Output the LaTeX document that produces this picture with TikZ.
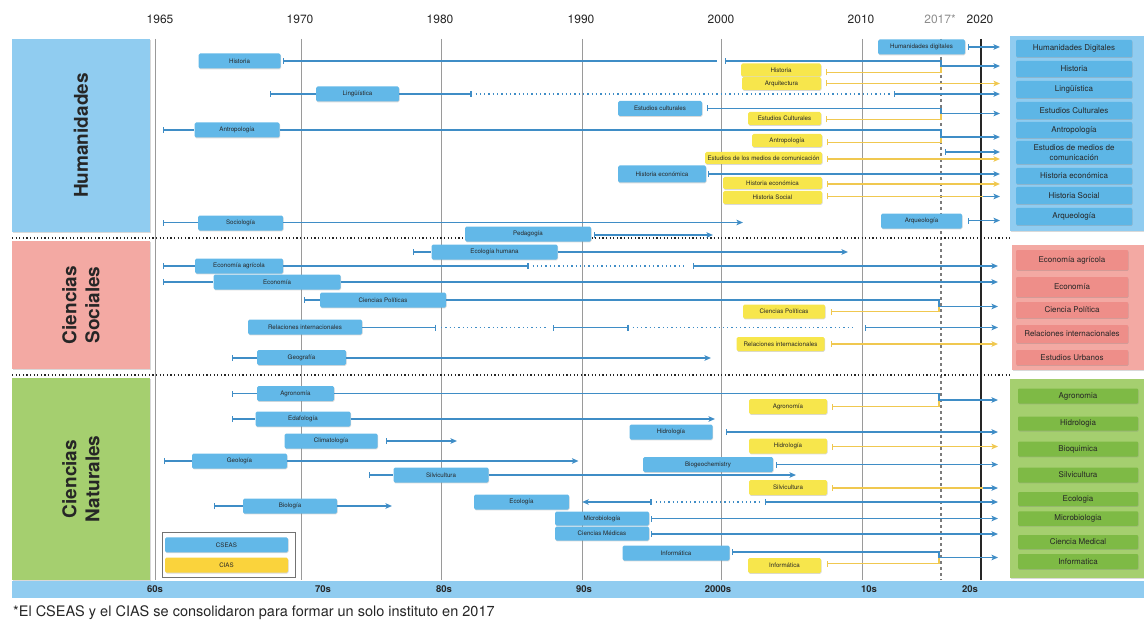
\documentclass[tikz,border=0pt]{standalone}
\usepackage{fontspec}
\setmainfont{TeX Gyre Heros}
\usetikzlibrary{arrows.meta,shadows}
\definecolor{cseas}{HTML}{62B8E8}
\definecolor{cias}{HTML}{F7E64C}
\definecolor{ciasleg}{HTML}{FAD33C}
\definecolor{lineB}{HTML}{3F8DC6}
\definecolor{lineY}{HTML}{F0C850}
\definecolor{humbg}{HTML}{90CCF0}
\definecolor{humin}{HTML}{5DB6E6}
\definecolor{socbg}{HTML}{F3A9A3}
\definecolor{socin}{HTML}{EE8E89}
\definecolor{natbg}{HTML}{A5CF6F}
\definecolor{natin}{HTML}{7EBA45}
\definecolor{gridc}{HTML}{9A9A9A}
\tikzset{
 shd/.style={drop shadow={shadow xshift=0.5pt,shadow yshift=-0.8pt,opacity=0.3}},
 cs/.style={fill=cseas,rounded corners=1.5pt,inner sep=0pt,minimum height=15pt,font=\fontsize{6.2}{7}\selectfont,text=black!85,shd},
 ci/.style={cs,fill=cias,minimum height=13pt},
 bl/.style={draw=lineB,line width=1.8pt},
 yl/.style={draw=lineY,line width=1.8pt},
 dl/.style={draw=lineB,line width=1.8pt,dash pattern=on 1.3pt off 3pt},
 ba/.style={arrows={Bar[width=6pt,line width=1.2pt]-Stealth[length=6.5pt,width=5.5pt,inset=1.5pt]}},
 bn/.style={arrows={Bar[width=6pt,line width=1.2pt]-}},
 nb/.style={arrows={-Bar[width=6pt,line width=1.2pt]}},
 bb/.style={arrows={Bar[width=6pt,line width=1.2pt]-Bar[width=6pt,line width=1.2pt]}},
 na/.style={arrows={-Stealth[length=6.5pt,width=5.5pt,inset=1.5pt]}},
 ab/.style={arrows={Stealth[length=6.5pt,width=5.5pt,inset=1.5pt]-Bar[width=6pt,line width=1.2pt]}},
 yr/.style={font=\fontsize{12}{13}\selectfont,text=black!85,inner sep=0pt},
 dec/.style={font=\bfseries\fontsize{9.5}{10}\selectfont,text=black!85,inner sep=0pt},
 cat/.style={rotate=90,inner sep=0pt,align=center,font=\bfseries\fontsize{19}{23}\selectfont,text=black!85,shd},
 pan/.style={inner sep=0pt,shd},
 rp/.style={rounded corners=1pt,inner sep=0pt,align=center,font=\fontsize{8}{9.5}\selectfont,text=black!85,shd},
 gridl/.style={draw=gridc,line width=0.8pt},
 sep/.style={draw=black!85,line width=1.5pt,dash pattern=on 1.2pt off 2.4pt},
}
\begin{document}
\begin{tikzpicture}[x=1pt,y=-1pt]
\useasboundingbox (0,0) rectangle (1144,623);
% year labels
\node[yr] (y65) at (160,19) {1965};
\node[yr] (y70) at (300,19) {1970};
\node[yr] (y80) at (440,19) {1980};
\node[yr] (y90) at (581,19) {1990};
\node[yr] (y00) at (721,19) {2000};
\node[yr] (y10) at (861,19) {2010};
\node[yr,text=black!45] (y17) at (940,19) {2017*};
\node[yr] (y20) at (980,19) {2020};
% grid
\foreach \xx in {155,301.5,441.5,582,721,862} \draw[gridl] (\xx,39) -- (\xx,580);
\draw[draw=gridc!80!black,line width=1.6pt,dash pattern=on 3pt off 3pt] (941,39) -- (941,580);
\draw[black!85,line width=1.2pt] (981,39) -- (981,580);
% separators
\draw[sep] (12,238) -- (1010,238);
\draw[sep] (12,375) -- (1010,375);
% left category boxes
\node[cat,fill=humbg,minimum width=193pt,minimum height=138pt] (catH) at (81,135.5) {Humanidades};
\node[cat,fill=socbg,minimum width=128pt,minimum height=138pt] (catS) at (81,305) {Ciencias\\Sociales};
\node[cat,fill=natbg,minimum width=202pt,minimum height=138pt] (catN) at (81,479) {Ciencias\\Naturales};
% right panels
\node[pan,fill=humbg,minimum width=134pt,minimum height=195pt] (panH) at (1077,133.5) {};
\node[pan,fill=socbg,minimum width=132pt,minimum height=125pt] (panS) at (1078,307.5) {};
\node[pan,fill=natbg,minimum width=134pt,minimum height=199pt] (panN) at (1077,478.5) {};
\node[rp,fill=humin,minimum width=116pt,minimum height=17pt] (rHD) at (1074,48.5) {Humanidades Digitales};
\node[rp,fill=humin,minimum width=116pt,minimum height=16pt] (rHi) at (1074,69) {Historia};
\node[rp,fill=humin,minimum width=116pt,minimum height=17pt] (rLi) at (1074,89.5) {Lingüística};
\node[rp,fill=humin,minimum width=116pt,minimum height=17pt] (rEC) at (1074,110.5) {Estudios Culturales};
\node[rp,fill=humin,minimum width=116pt,minimum height=16pt] (rAn) at (1074,130) {Antropología};
\node[rp,fill=humin,minimum width=116pt,minimum height=23pt] (rEM) at (1074,152.5) {Estudios de medios de\\comunicación};
\node[rp,fill=humin,minimum width=116pt,minimum height=16pt] (rHE) at (1074,176) {Historia económica};
\node[rp,fill=humin,minimum width=116pt,minimum height=17pt] (rHS) at (1074,195.5) {Historia Social};
\node[rp,fill=humin,minimum width=116pt,minimum height=17pt] (rAr) at (1074,216.5) {Arqueología};
\node[rp,fill=socin,minimum width=112pt,minimum height=20pt] (rEA) at (1072,260) {Economía agrícola};
\node[rp,fill=socin,minimum width=112pt,minimum height=20pt] (rEc) at (1072,287) {Economía};
\node[rp,fill=socin,minimum width=112pt,minimum height=16pt] (rCP) at (1072,310) {Ciencia Política};
\node[rp,fill=socin,minimum width=112pt,minimum height=18pt] (rRI) at (1072,334) {Relaciones internacionales};
\node[rp,fill=socin,minimum width=112pt,minimum height=15pt] (rEU) at (1072,357.5) {Estudios Urbanos};
\node[rp,fill=natin,minimum width=120pt,minimum height=15pt] (rAg) at (1078,396) {Agronomia};
\node[rp,fill=natin,minimum width=120pt,minimum height=14pt] (rHd) at (1078,423.7) {Hidrologia};
\node[rp,fill=natin,minimum width=120pt,minimum height=15pt] (rBq) at (1078,449) {Bioquimica};
\node[rp,fill=natin,minimum width=120pt,minimum height=15pt] (rSv) at (1078,475) {Silvicultura};
\node[rp,fill=natin,minimum width=120pt,minimum height=14pt] (rEg) at (1078,499) {Ecologia};
\node[rp,fill=natin,minimum width=120pt,minimum height=14.5pt] (rMb) at (1078,518.5) {Microbiologia};
\node[rp,fill=natin,minimum width=120pt,minimum height=14pt] (rCM) at (1078,542) {Ciencia Medical};
\node[rp,fill=natin,minimum width=120pt,minimum height=15pt] (rIn) at (1078,561.5) {Informatica};
% ===== Humanidades rows =====
\node[cs,minimum width=87pt] (hd) at (921.5,47) {Humanidades digitales};
\coordinate (hdE) at (1000,47);
\draw[bl,ba,shorten <=3pt] (hd.east) -- (hdE);
\node[cs,minimum width=82pt] (hist) at (239.5,61) {Historia};
\coordinate (histA) at (717,61);
\coordinate (histB) at (725,61);
\coordinate (histM) at (941,61);
\coordinate (histJ) at (941,66);
\coordinate (histE) at (1000,66);
\draw[bl,bn,shorten <=2pt] (hist.east) -- (histA);
\node[ci,minimum width=80pt] (yhist) at (781,70) {Historia};
\coordinate (yhistM) at (941,72.5);
\draw[yl,bn,shorten <=5pt] (yhist.east |- yhistM) -- (yhistM) -- (histJ);
\draw[bl,ba] (histB) -- (histM) -- (histJ) -- (histE);
\node[ci,minimum width=79pt] (arq) at (781.5,83.5) {Arquitectura};
\coordinate (arqE) at (1000,83.5);
\draw[yl,ba,shorten <=5pt] (arq.east) -- (arqE);
\node[cs,minimum width=83pt] (ling) at (357.5,94) {Lingüística};
\coordinate (lingS) at (270,94);
\coordinate (lingA) at (471.5,94);
\coordinate (lingB) at (894,94);
\coordinate (lingE) at (1000,94);
\draw[bl,bn] (lingS) -- (ling.west);
\draw[bl,nb] (ling.east) -- (lingA);
\draw[dl,shorten <=4pt,shorten >=4pt] (lingA) -- (lingB);
\draw[bl,ba] (lingB) -- (lingE);
\node[cs,minimum width=84pt] (ecul) at (660,108.5) {Estudios culturales};
\coordinate (eculM) at (941,108.5);
\coordinate (eculJ) at (941,113.5);
\coordinate (eculE) at (1000,113.5);
\node[ci,minimum width=73pt] (yecul) at (784.5,118.5) {Estudios Culturales};
\coordinate (yeculM) at (941,119.5);
\draw[yl,bn,shorten <=5pt] (yecul.east |- yeculM) -- (yeculM) -- (eculJ);
\draw[bl,ba,shorten <=5pt] (ecul.east) -- (eculM) -- (eculJ) -- (eculE);
\node[cs,minimum width=85pt] (antr) at (237,130) {Antropología};
\coordinate (antrS) at (163,130);
\coordinate (antrM) at (941,130);
\coordinate (antrJ) at (941,137);
\coordinate (antrE) at (1000,137);
\draw[bl,bn] (antrS) -- (antr.west);
\node[ci,minimum width=70pt] (yantr) at (787,140.5) {Antropología};
\coordinate (yantrM) at (941,142.5);
\draw[yl,bn,shorten <=5pt] (yantr.east |- yantrM) -- (yantrM) -- (antrJ);
\draw[bl,na] (antr.east) -- (antrM) -- (antrJ) -- (antrE);
\coordinate (medS) at (945,152);
\coordinate (medE) at (1000,152);
\draw[bl,ba] (medS) -- (medE);
\node[ci,minimum width=117pt,minimum height=12pt] (ymed) at (763.5,158) {Estudios de los medios de comunicación};
\coordinate (ymedE) at (1000,159);
\draw[yl,ba,shorten <=5pt] (ymed.east |- ymedE) -- (ymedE);
\node[cs,minimum width=88pt,minimum height=17pt] (hec) at (662,174) {Historia económica};
\coordinate (hecE) at (1000,174);
\draw[bl,ba,shorten <=2pt] (hec.east) -- (hecE);
\node[ci,minimum width=99pt,minimum height=12pt] (yhec) at (772.5,183) {Historia económica};
\coordinate (yhecE) at (1000,184);
\draw[yl,ba,shorten <=5pt] (yhec.east |- yhecE) -- (yhecE);
\node[ci,minimum width=99pt] (yhs) at (772.5,197.5) {Historia Social};
\coordinate (yhsM) at (983,196.5);
\coordinate (yhsE) at (1000,196.5);
\draw[yl,bn,shorten <=5pt] (yhs.east |- yhsM) -- (yhsM);
\draw[bl,na] (yhsM) -- (yhsE);
\node[cs,minimum width=81pt] (arqu) at (921.5,221) {Arqueología};
\coordinate (arquE) at (1000,220.5);
\draw[bl,ba,shorten <=6pt] (arqu.east |- arquE) -- (arquE);
\node[cs,minimum width=85pt] (soc) at (240.5,223) {Sociología};
\coordinate (socS) at (163,222.5);
\coordinate (socE) at (743,222.5);
\draw[bl,bn] (socS) -- (soc.west |- socS);
\draw[bl,na] (soc.east |- socE) -- (socE);
\node[cs,minimum width=126pt] (ped) at (528,234) {Pedagogía};
\coordinate (pedE) at (713,235);
\draw[bl,ba,shorten <=3pt] (ped.east |- pedE) -- (pedE);
% ===== Sociales rows =====
\node[cs,minimum width=126pt] (ecoh) at (494.5,252) {Ecología humana};
\coordinate (ecohS) at (413,252);
\coordinate (ecohE) at (848,252);
\draw[bl,bn] (ecohS) -- (ecoh.west);
\draw[bl,na] (ecoh.east) -- (ecohE);
\node[cs,minimum width=88pt] (eag) at (239,266) {Economía agrícola};
\coordinate (eagS) at (163,266);
\coordinate (eagA) at (528.5,266);
\coordinate (eagB) at (693,266);
\coordinate (eagE) at (998,266);
\draw[bl,bn] (eagS) -- (eag.west);
\draw[bl,nb] (eag.east) -- (eagA);
\draw[dl,shorten <=4pt,shorten >=8pt] (eagA) -- (eagB);
\draw[bl,ba] (eagB) -- (eagE);
\node[cs,minimum width=127pt] (econ) at (277,282) {Economía};
\coordinate (econS) at (163,282);
\coordinate (econE) at (998,282);
\draw[bl,bn] (econS) -- (econ.west);
\draw[bl,na] (econ.east) -- (econE);
\node[cs,minimum width=126pt] (cpol) at (383,300) {Ciencias Políticas};
\coordinate (cpolS) at (303.5,300);
\coordinate (cpolM) at (939,300);
\coordinate (cpolJ) at (939,306.5);
\coordinate (cpolE) at (998,306.5);
\draw[bl,bn] (cpolS) -- (cpol.west);
\node[ci,minimum width=82pt,minimum height=14pt] (ycpol) at (784,311.5) {Ciencias Políticas};
\coordinate (ycpolM) at (939,311.5);
\draw[yl,bn,shorten <=6pt] (ycpol.east) -- (ycpolM) -- (cpolJ);
\draw[bl,na] (cpol.east) -- (cpolM) -- (cpolJ) -- (cpolE);
\node[cs,minimum width=114pt] (rel) at (305,327) {Relaciones internacionales};
\coordinate (relA) at (436,327.5);
\coordinate (relB) at (553,327.5);
\coordinate (relC) at (628.5,327.5);
\coordinate (relD) at (865,327.5);
\coordinate (relE) at (998,327.5);
\draw[bl,nb] (rel.east |- relA) -- (relA);
\draw[dl,shorten <=5pt,shorten >=5pt] (relA) -- (relB);
\draw[bl,bb] (relB) -- (relC);
\draw[dl,shorten <=4pt,shorten >=10pt] (relC) -- (relD);
\draw[bl,ba] (relD) -- (relE);
\node[ci,minimum width=88pt,minimum height=14pt] (yrel) at (780.5,344) {Relaciones internacionales};
\coordinate (yrelE) at (998,344);
\draw[yl,ba,shorten <=6pt] (yrel.east) -- (yrelE);
\node[cs,minimum width=89pt] (geo) at (301.5,357.5) {Geografía};
\coordinate (geoS) at (232,358);
\coordinate (geoE) at (711,358);
\draw[bl,bn] (geoS) -- (geo.west |- geoS);
\draw[bl,na] (geo.east |- geoE) -- (geoE);
% ===== Naturales rows =====
\node[cs,minimum width=77pt] (agr) at (295.5,393.5) {Agronomía};
\coordinate (agrS) at (232,393.5);
\coordinate (agrM) at (939,393.5);
\coordinate (agrJ) at (939,400);
\coordinate (agrE) at (998,400);
\draw[bl,bn] (agrS) -- (agr.west);
\node[ci,minimum width=78pt,minimum height=15pt] (yagr) at (788,406.5) {Agronomía};
\coordinate (yagrM) at (939,406.5);
\draw[yl,bn,shorten <=5pt] (yagr.east) -- (yagrM) -- (agrJ);
\draw[bl,na] (agr.east) -- (agrM) -- (agrJ) -- (agrE);
\node[cs,minimum width=95pt] (eda) at (303,419) {Edafología};
\coordinate (edaS) at (232,419);
\coordinate (edaE) at (715,419);
\draw[bl,bn] (edaS) -- (eda.west);
\draw[bl,na] (eda.east) -- (edaE);
\node[cs,minimum width=83pt] (hid) at (671,432) {Hidrología};
\coordinate (hidE) at (998,432);
\draw[bl,ba,shorten <=13pt] (hid.east) -- (hidE);
\node[ci,minimum width=78pt,minimum height=15pt] (yhid) at (788,446) {Hidrología};
\coordinate (yhidE) at (998,446.5);
\draw[yl,ba,shorten <=5pt] (yhid.east |- yhidE) -- (yhidE);
\node[cs,minimum width=93pt] (cli) at (331,441) {Climatología};
\coordinate (cliE) at (457,441);
\draw[bl,ba,shorten <=8pt] (cli.east) -- (cliE);
\node[cs,minimum width=95pt] (geol) at (239.5,461) {Geología};
\coordinate (geolS) at (163.5,461);
\coordinate (geolE) at (578.5,461);
\draw[bl,bn] (geolS) -- (geol.west);
\draw[bl,na] (geol.east) -- (geolE);
\node[cs,minimum width=130pt] (bgc) at (708,464.5) {Biogeochemistry};
\coordinate (bgcE) at (998,464.5);
\draw[bl,ba,shorten <=3pt] (bgc.east) -- (bgcE);
\node[cs,minimum width=95pt] (sil) at (441,475) {Silvicultura};
\coordinate (silS) at (369,475);
\coordinate (silE) at (796,475);
\draw[bl,bn] (silS) -- (sil.west);
\draw[bl,na] (sil.east) -- (silE);
\node[ci,minimum width=78pt,minimum height=15pt] (ysil) at (788,487.5) {Silvicultura};
\coordinate (ysilM) at (983,488);
\coordinate (ysilE) at (998,488);
\draw[yl,bn,shorten <=5pt] (ysil.east |- ysilM) -- (ysilM);
\draw[bl,na] (ysilM) -- (ysilE);
\node[cs,minimum width=95pt] (eco) at (521.5,502) {Ecología};
\coordinate (ecoA) at (651.5,502);
\coordinate (ecoB) at (765,502);
\coordinate (ecoE) at (998,502);
\draw[bl,ab,shorten <=13pt] (eco.east) -- (ecoA);
\draw[dl,shorten <=4pt,shorten >=4pt] (ecoA) -- (ecoB);
\draw[bl,ba] (ecoB) -- (ecoE);
\node[cs,minimum width=94pt] (bio) at (290,506) {Biología};
\coordinate (bioS) at (213.5,506);
\coordinate (bioE) at (392,506);
\draw[bl,bn] (bioS) -- (bio.west);
\draw[bl,na] (bio.east) -- (bioE);
\node[cs,minimum width=94pt,minimum height=14pt] (mic) at (602,518.5) {Microbiología};
\coordinate (micE) at (998,518.5);
\draw[bl,ba,shorten <=2pt] (mic.east) -- (micE);
\node[cs,minimum width=94pt,minimum height=14pt] (cmed) at (602,533.5) {Ciencias Médicas};
\coordinate (cmedE) at (998,534);
\draw[bl,ba,shorten <=2pt] (cmed.east |- cmedE) -- (cmedE);
\node[cs,minimum width=107pt] (inf) at (676,553) {Informática};
\coordinate (infM) at (939,552);
\coordinate (infJ) at (939,557.5);
\coordinate (infE) at (998,557.5);
\node[ci,minimum width=73pt,minimum height=15pt] (yinf) at (784.5,565.5) {Informática};
\coordinate (yinfM) at (939,563.5);
\draw[yl,bn,shorten <=6pt] (yinf.east |- yinfM) -- (yinfM) -- (infJ);
\draw[bl,ba,shorten <=2pt] (inf.east |- infM) -- (infM) -- (infJ) -- (infE);
% legend
\node[draw=black!55,line width=1pt,minimum width=133pt,minimum height=44.5pt,inner sep=0pt] (leg) at (229,555) {};
\node[cs,minimum width=123pt,minimum height=15pt] (legC) at (226.5,544.8) {CSEAS};
\node[cs,fill=ciasleg,minimum width=123pt,minimum height=15pt] (legI) at (226.5,565.2) {CIAS};
% bottom axis
\node[pan,fill=humbg,minimum width=1132pt,minimum height=17pt] (axis) at (578,589) {};
\node[dec] (d60) at (155,589) {60s};
\node[dec] (d70) at (323,589) {70s};
\node[dec] (d80) at (444,589) {80s};
\node[dec] (d90) at (584,589) {90s};
\node[dec] (d00) at (718,589) {2000s};
\node[dec] (d10) at (869,589) {10s};
\node[dec] (d20) at (970,589) {20s};
\node[anchor=west,inner sep=0pt,font=\fontsize{14.5}{16}\selectfont,text=black!85] (foot) at (13,613) {*El CSEAS y el CIAS se consolidaron para formar un solo instituto en 2017};
\end{tikzpicture}
\end{document}
